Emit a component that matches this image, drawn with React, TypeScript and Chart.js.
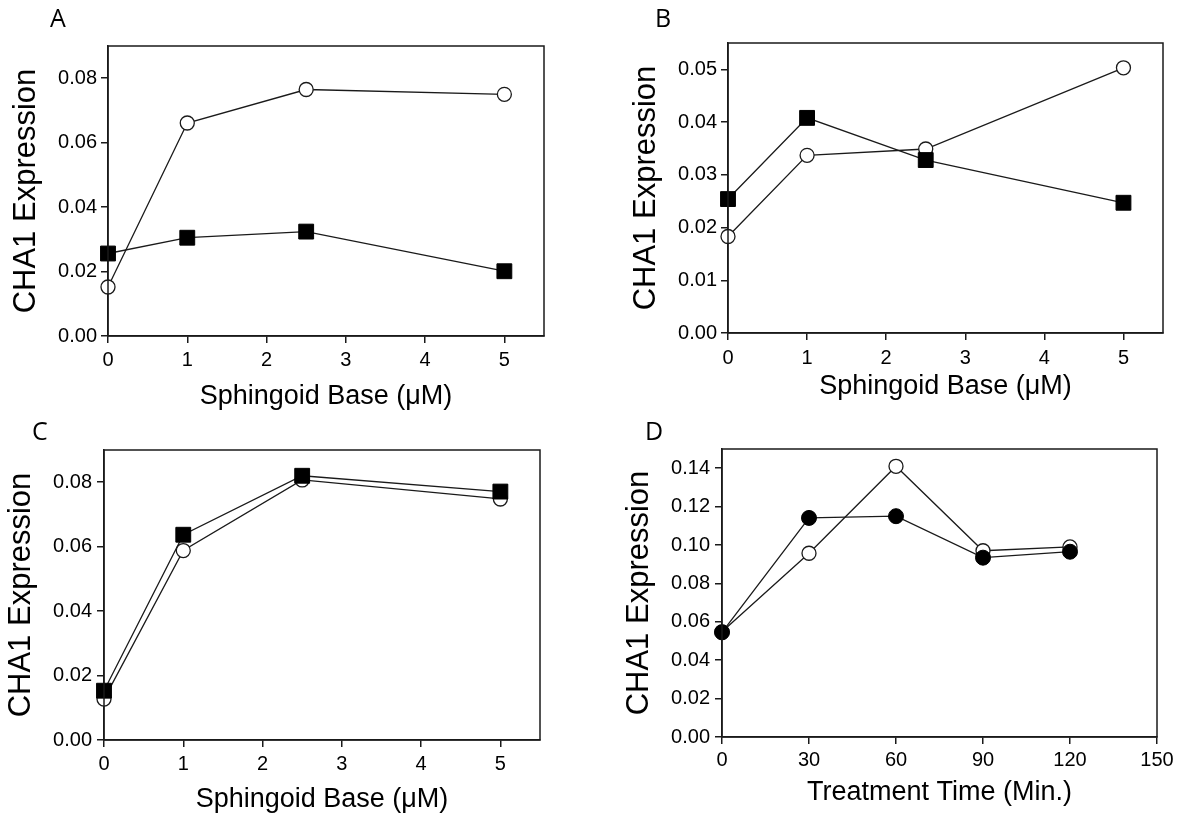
import React, { useEffect, useRef } from "react";
import { Chart, registerables } from "chart.js";

Chart.register(...registerables);

// ---------- data ----------
const DOSE_X = [0, 1, 2.5, 5];
const TIME_X = [0, 30, 60, 90, 120];

const A_OPEN = [0.0152, 0.0661, 0.0765, 0.075];
const A_SQUARE = [0.0256, 0.0305, 0.0324, 0.0201];

const B_OPEN = [0.0183, 0.0337, 0.0349, 0.0503];
const B_SQUARE = [0.0254, 0.0408, 0.0328, 0.0247];

const C_OPEN = [0.0127, 0.0588, 0.0807, 0.0748];
const C_SQUARE = [0.0153, 0.0637, 0.082, 0.0771];

const D_OPEN = [0.0548, 0.0957, 0.141, 0.097, 0.099];
const D_FILLED = [0.0545, 0.1141, 0.115, 0.0934, 0.0965];

const Y_TICKS_AC = [0, 0.02, 0.04, 0.06, 0.08];
const Y_TICKS_B = [0, 0.01, 0.02, 0.03, 0.04, 0.05];
const Y_TICKS_D = [0, 0.02, 0.04, 0.06, 0.08, 0.1, 0.12, 0.14];
const X_TICKS_DOSE = [0, 1, 2, 3, 4, 5];
const X_TICKS_TIME = [0, 30, 60, 90, 120, 150];

const Y_TITLE = "CHA1 Expression";
const X_TITLE_DOSE = "Sphingoid Base (μM)";
const X_TITLE_TIME = "Treatment Time (Min.)";

const FONT = "'Liberation Sans', Arial, sans-serif";
const INK = "#1a1a1a";

type PanelCfg = {
  letter: string;
  letterX: number;
  letterY: number;
  left: number;
  top: number;
  width: number;
  height: number;
  yWidth: number;
  xHeight: number;
  padTop: number;
  padRight: number;
  yTitlePad: number;
  yTickPad: number;
  xTickPad: number;
  xTitlePad: number;
  xMax: number;
  yMax: number;
  xTicks: number[];
  yTicks: number[];
  xTitle: string;
  datasets: any[];
};

const pts = (xs: number[], ys: number[]) => xs.map((x, i) => ({ x, y: ys[i] }));

const openCircle = (xs: number[], ys: number[]) => ({
  data: pts(xs, ys),
  borderColor: INK,
  borderWidth: 1.3,
  pointStyle: "circle",
  pointRadius: 7,
  pointBorderWidth: 1.3,
  pointBackgroundColor: "#ffffff",
  pointBorderColor: INK,
  clip: false,
});
const filledSquare = (xs: number[], ys: number[]) => ({
  data: pts(xs, ys),
  borderColor: INK,
  borderWidth: 1.3,
  pointStyle: "rect",
  pointRadius: 10.5,
  pointBorderWidth: 1,
  pointBackgroundColor: "#000000",
  pointBorderColor: "#000000",
  clip: false,
});
const filledCircle = (xs: number[], ys: number[]) => ({
  data: pts(xs, ys),
  borderColor: INK,
  borderWidth: 1.3,
  pointStyle: "circle",
  pointRadius: 7.5,
  pointBorderWidth: 1,
  pointBackgroundColor: "#000000",
  pointBorderColor: "#000000",
  clip: false,
});

const PANELS: PanelCfg[] = [
  {
    letter: "A", letterX: 50, letterY: 27,
    left: 0, top: 0, width: 590, height: 410,
    yWidth: 108, xHeight: 74, padTop: 46, padRight: 46,
    yTitlePad: 11, yTickPad: 4, xTickPad: 7, xTitlePad: 0,
    xMax: 5.5, yMax: 0.09, xTicks: X_TICKS_DOSE, yTicks: Y_TICKS_AC, xTitle: X_TITLE_DOSE,
    datasets: [filledSquare(DOSE_X, A_SQUARE), openCircle(DOSE_X, A_OPEN)],
  },
  {
    letter: "B", letterX: 65, letterY: 27,
    left: 590, top: 0, width: 595, height: 410,
    yWidth: 138, xHeight: 77, padTop: 43, padRight: 22,
    yTitlePad: 41, yTickPad: 4, xTickPad: 8, xTitlePad: 10,
    xMax: 5.5, yMax: 0.055, xTicks: X_TICKS_DOSE, yTicks: Y_TICKS_B, xTitle: X_TITLE_DOSE,
    datasets: [filledSquare(DOSE_X, B_SQUARE), openCircle(DOSE_X, B_OPEN)],
  },
  {
    letter: "C", letterX: 32, letterY: 30,
    left: 0, top: 410, width: 590, height: 411,
    yWidth: 104, xHeight: 81, padTop: 40, padRight: 50,
    yTitlePad: 6, yTickPad: 5, xTickPad: 7, xTitlePad: 8,
    xMax: 5.5, yMax: 0.09, xTicks: X_TICKS_DOSE, yTicks: Y_TICKS_AC, xTitle: X_TITLE_DOSE,
    datasets: [filledSquare(DOSE_X, C_SQUARE), openCircle(DOSE_X, C_OPEN)],
  },
  {
    letter: "D", letterX: 55, letterY: 30,
    left: 590, top: 410, width: 595, height: 411,
    yWidth: 132, xHeight: 84, padTop: 39, padRight: 28,
    yTitlePad: 34, yTickPad: 5, xTickPad: 6, xTitlePad: 15,
    xMax: 150, yMax: 0.15, xTicks: X_TICKS_TIME, yTicks: Y_TICKS_D, xTitle: X_TITLE_TIME,
    datasets: [filledCircle(TIME_X, D_FILLED), openCircle(TIME_X, D_OPEN)],
  },
];

const framePlugin = {
  id: "frame",
  afterDraw(chart: any, _args: any, opts: any) {
    const { ctx, chartArea } = chart;
    ctx.save();
    ctx.strokeStyle = INK;
    ctx.lineWidth = 1.5;
    ctx.strokeRect(chartArea.left, chartArea.top, chartArea.right - chartArea.left, chartArea.bottom - chartArea.top);
    ctx.fillStyle = "#000";
    ctx.font = "25px 'Open Sans', sans-serif";
    ctx.textBaseline = "alphabetic";
    ctx.textAlign = "left";
    ctx.fillText(opts.letter, opts.x, opts.y);
    ctx.restore();
  },
};

function Panel({ cfg }: { cfg: PanelCfg }) {
  const ref = useRef<HTMLCanvasElement | null>(null);
  useEffect(() => {
    if (!ref.current) return;
    const gridOpts = {
      display: true,
      drawOnChartArea: false,
      drawTicks: true,
      tickLength: 7,
      color: INK,
      lineWidth: 1.5,
    };
    const chart = new Chart(ref.current, {
      type: "line",
      data: { datasets: cfg.datasets },
      plugins: [framePlugin],
      options: {
        animation: false,
        responsive: false,
        devicePixelRatio: 1,
        events: [],
        layout: { padding: { left: 0, top: cfg.padTop, right: cfg.padRight, bottom: 0 } },
        plugins: {
          legend: { display: false },
          tooltip: { enabled: false },
          frame: { letter: cfg.letter, x: cfg.letterX, y: cfg.letterY },
        } as any,
        scales: {
          x: {
            type: "linear",
            min: 0,
            max: cfg.xMax,
            grid: gridOpts,
            border: { display: true, color: INK, width: 1.5 },
            afterFit: (s: any) => { s.height = cfg.xHeight; },
            afterBuildTicks: (s: any) => { s.ticks = cfg.xTicks.map((v) => ({ value: v })); },
            ticks: {
              padding: cfg.xTickPad,
              color: "#000",
              maxRotation: 0,
              autoSkip: false,
              font: { family: FONT, size: 20, lineHeight: 1 },
              callback: (v: any) => String(v),
            },
            title: {
              display: true,
              text: cfg.xTitle,
              color: "#000",
              font: { family: FONT, size: 27, lineHeight: 1 },
              padding: { top: 0, bottom: cfg.xTitlePad },
            },
          },
          y: {
            type: "linear",
            min: 0,
            max: cfg.yMax,
            grid: gridOpts,
            border: { display: true, color: INK, width: 1.5 },
            afterFit: (s: any) => { s.width = cfg.yWidth; },
            afterBuildTicks: (s: any) => { s.ticks = cfg.yTicks.map((v) => ({ value: v })); },
            ticks: {
              padding: cfg.yTickPad,
              color: "#000",
              autoSkip: false,
              font: { family: FONT, size: 20, lineHeight: 1 },
              callback: (v: any) => Number(v).toFixed(2),
            },
            title: {
              display: true,
              text: Y_TITLE,
              color: "#000",
              font: { family: FONT, size: 31, lineHeight: 1 },
              padding: { top: cfg.yTitlePad, bottom: 0 },
            },
          },
        },
      } as any,
    });
    return () => chart.destroy();
  }, [cfg]);
  return (
    <canvas
      ref={ref}
      width={cfg.width}
      height={cfg.height}
      style={{ position: "absolute", left: cfg.left, top: cfg.top, width: cfg.width, height: cfg.height }}
    />
  );
}

export default function App() {
  return (
    <div style={{ position: "absolute", left: 0, top: 0, width: 1185, height: 821, background: "#fff" }}>
      {PANELS.map((p) => (
        <Panel key={p.letter} cfg={p} />
      ))}
    </div>
  );
}
